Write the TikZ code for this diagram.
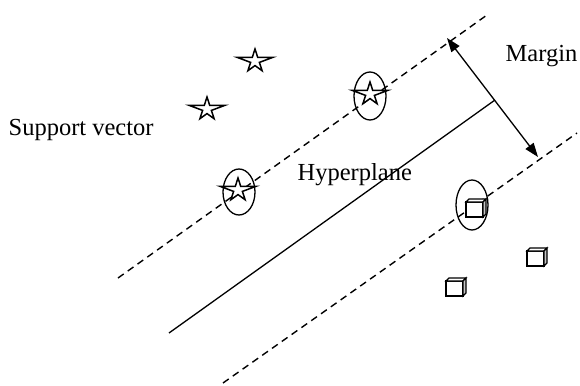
\documentclass[tikz,border=0pt]{standalone}
\usepackage{fontspec}
\setmainfont{Liberation Serif}
\usetikzlibrary{arrows.meta}

\begin{document}
\begin{tikzpicture}[x=1pt,y=-1pt,line width=1.3pt,
  every node/.style={font=\fontsize{24.5}{28}\selectfont,inner sep=0pt},
  dashln/.style={dash pattern=on 7pt off 5pt,line width=1.4pt},
  marg/.style={{Triangle[length=14pt,width=10pt]}-{Triangle[length=14pt,width=10pt]}},
  ring/.style={line width=1.3pt},
  astar/.pic={\draw[line join=miter,line width=1.5pt,fill=white] (0,-12) -- (2.7,-3.7) -- (18,-3.7) -- (4.4,1.4)
     -- (7.1,9.7) -- (0,4.6) -- (-7.1,9.7) -- (-4.4,1.4) -- (-18,-3.7) -- (-2.7,-3.7) -- cycle;},
  cube/.pic={\draw[line width=1.2pt,fill=white] (-8,-7) rectangle (9,8);
     \draw[line width=1.2pt,fill=white] (-8,-7) -- (-5,-10) -- (12,-10) -- (9,-7) -- cycle;
     \draw[line width=1.2pt,fill=gray!45] (9,-7) -- (12,-10) -- (12,5) -- (9,8) -- cycle;}]
\useasboundingbox (0,0) rectangle (580,385);
\coordinate (upA) at (118,278);
\coordinate (upB) at (487,15);
\coordinate (hpA) at (169,333);
\coordinate (hpB) at (495,100);
\coordinate (loA) at (223,383);
\coordinate (loB) at (577,133);
\coordinate (mgA) at (447,38);
\coordinate (mgB) at (538,157);
\draw[dashln] (upA) -- (upB);
\draw (hpA) -- (hpB);
\draw[dashln] (loA) -- (loB);
\draw[marg] (mgA) -- (mgB);
\pic at (255,61) {astar};
\pic at (207,109) {astar};
\pic at (370,94) {astar};
\pic at (238,190) {astar};
\draw[ring] (370,96) ellipse [x radius=16,y radius=24];
\draw[ring] (239,192) ellipse [x radius=16,y radius=23];
\pic at (474,209) {cube};
\pic at (535,258) {cube};
\pic at (454,288) {cube};
\draw[ring] (472,205) ellipse [x radius=16,y radius=25];
\node[anchor=base west] (sv) at (8,135) {Support vector};
\node[anchor=base west] (hyp) at (297,180) {Hyperplane};
\node[anchor=base west] (mrg) at (505,62) {Margin};
\end{tikzpicture}
\end{document}
